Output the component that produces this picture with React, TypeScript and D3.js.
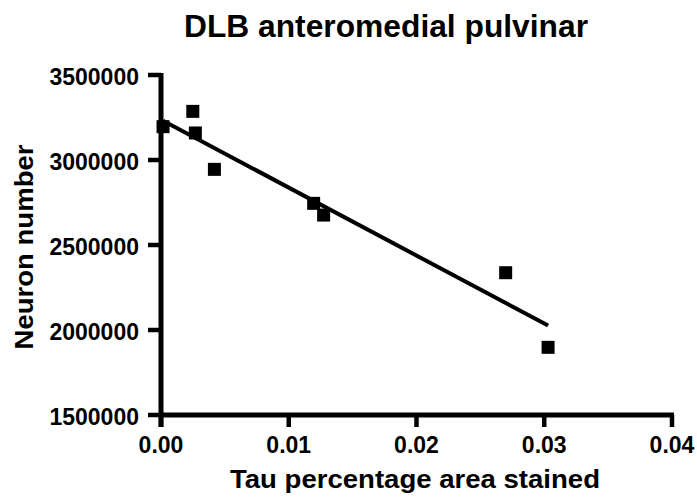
import React from "react";
import * as d3 from "d3";

const tauArea = [0.00016, 0.00249, 0.00269, 0.00418, 0.01195, 0.01273, 0.02698, 0.0303];
const neuronNumber = [3196000, 3286000, 3159000, 2945000, 2745000, 2676000, 2337000, 1898000];
const xTicks = [0, 0.01, 0.02, 0.03, 0.04];
const yTicks = [1500000, 2000000, 2500000, 3000000, 3500000];
const titleText = "DLB anteromedial pulvinar";
const xLabel = "Tau percentage area stained";
const yLabel = "Neuron number";

const W = 697;
const H = 501;
const FONT = "'Liberation Sans', Arial, Helvetica, sans-serif";

export default function App() {
  const x = d3.scaleLinear().domain([0, 0.04]).range([161, 672]);
  const y = d3.scaleLinear().domain([1500000, 3500000]).range([415, 75]);

  // least squares regression
  const mx = d3.mean(tauArea) as number;
  const my = d3.mean(neuronNumber) as number;
  let sxy = 0;
  let sxx = 0;
  tauArea.forEach((v, i) => {
    sxy += (v - mx) * (neuronNumber[i] - my);
    sxx += (v - mx) * (v - mx);
  });
  const slope = sxy / sxx;
  const intercept = my - slope * mx;
  const x0 = d3.min(tauArea) as number;
  const x1 = d3.max(tauArea) as number;
  const fit: [number, number][] = [
    [x0, intercept + slope * x0],
    [x1, intercept + slope * x1],
  ];
  const line = d3
    .line<[number, number]>()
    .x((d) => x(d[0]))
    .y((d) => y(d[1]));

  const sq = 13;

  return (
    <svg
      width={W}
      height={H}
      style={{ position: "absolute", left: 0, top: 0, background: "#fff" }}
      fontFamily={FONT}
      fontWeight="bold"
    >
      <rect x={0} y={0} width={W} height={H} fill="#fff" />
      <text x={386} y={37} fontSize={31} textAnchor="middle" textLength={404} lengthAdjust="spacingAndGlyphs">
        {titleText}
      </text>

      {/* y axis */}
      <line x1={x(0)} x2={x(0)} y1={y(3500000) - 2} y2={427} stroke="#000" strokeWidth={5} />
      {yTicks.map((t) => (
        <g key={t}>
          <line x1={x(0) - 13} x2={x(0)} y1={y(t)} y2={y(t)} stroke="#000" strokeWidth={4.5} />
          <text x={139} y={y(t) + 10} fontSize={23} textAnchor="end">
            {String(t)}
          </text>
        </g>
      ))}

      {/* x axis */}
      <line x1={x(0)} x2={x(0.04) + 2} y1={y(1500000)} y2={y(1500000)} stroke="#000" strokeWidth={5} />
      {xTicks.map((t) => (
        <g key={t}>
          <line x1={x(t)} x2={x(t)} y1={y(1500000)} y2={y(1500000) + 12} stroke="#000" strokeWidth={4.5} />
          <text x={x(t)} y={453} fontSize={23} textAnchor="middle">
            {d3.format(".2f")(t)}
          </text>
        </g>
      ))}

      <text x={415} y={488} fontSize={26} textAnchor="middle" textLength={370} lengthAdjust="spacingAndGlyphs">
        {xLabel}
      </text>
      <text
        transform={`translate(33,247) rotate(-90)`}
        fontSize={26}
        textAnchor="middle"
        textLength={205}
        lengthAdjust="spacingAndGlyphs"
      >
        {yLabel}
      </text>

      <path d={line(fit) || ""} stroke="#000" strokeWidth={4} fill="none" />

      {tauArea.map((v, i) => (
        <rect
          key={i}
          x={x(v) - sq / 2}
          y={y(neuronNumber[i]) - sq / 2}
          width={sq}
          height={sq}
          fill="#000"
        />
      ))}
    </svg>
  );
}
